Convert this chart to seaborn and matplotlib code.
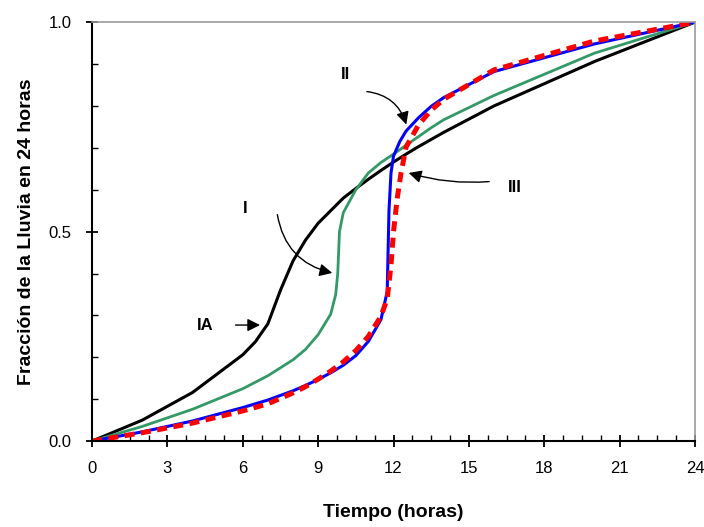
import pandas as pd
import matplotlib.pyplot as plt
import seaborn as sns
from matplotlib.ticker import MultipleLocator, FormatStrFormatter

# SCS 24-hour rainfall distributions
t_ia = [0, 2, 4, 6, 6.5, 7.0, 7.5, 8.0, 8.5, 9.0, 9.5, 10, 10.5, 11, 11.5, 12, 12.5, 13, 13.5, 14, 16, 20, 24]
f_ia = [0, 0.050, 0.116, 0.206, 0.237, 0.280, 0.360, 0.430, 0.480, 0.520, 0.550, 0.580, 0.603, 0.625, 0.646,
        0.666, 0.685, 0.703, 0.720, 0.737, 0.800, 0.906, 1.0]

t_i = [0, 2, 4, 6, 7, 8, 8.5, 9, 9.5, 9.7, 9.78, 9.85, 10, 10.5, 11, 11.5, 12, 12.5, 13, 13.5, 14, 16, 20, 24]
f_i = [0, 0.035, 0.076, 0.125, 0.156, 0.194, 0.219, 0.254, 0.303, 0.350, 0.400, 0.500, 0.545, 0.600, 0.640,
       0.665, 0.685, 0.706, 0.727, 0.748, 0.767, 0.825, 0.926, 1.0]

t_ii = [0, 2, 4, 6, 7, 8, 8.5, 9, 9.5, 9.75, 10, 10.5, 11, 11.5, 11.75, 11.82, 11.9, 12.0, 12.25, 12.5, 13,
        13.5, 14, 16, 20, 24]
f_ii = [0, 0.022, 0.048, 0.080, 0.098, 0.120, 0.133, 0.147, 0.163, 0.172, 0.181, 0.204, 0.238, 0.290, 0.357,
        0.550, 0.640, 0.680, 0.715, 0.740, 0.772, 0.799, 0.820, 0.882, 0.948, 1.0]

t_iii = [0, 2, 4, 6, 7, 8, 8.5, 9, 9.5, 9.75, 10, 10.5, 11, 11.5, 11.75, 11.9, 12.0, 12.15, 12.3, 12.5, 13,
         13.5, 14, 16, 20, 24]
f_iii = [0, 0.020, 0.043, 0.072, 0.089, 0.115, 0.130, 0.148, 0.167, 0.178, 0.189, 0.216, 0.250, 0.298, 0.340,
         0.420, 0.500, 0.580, 0.640, 0.702, 0.755, 0.790, 0.816, 0.886, 0.955, 1.0]

sns.set_style("ticks")
plt.rcParams['font.family'] = ['Liberation Sans', 'DejaVu Sans']
for key in ['text.color', 'axes.labelcolor', 'xtick.color', 'ytick.color']:
    plt.rcParams[key] = 'black'

fig = plt.figure(figsize=(7.04, 5.27), dpi=100)
ax = fig.add_axes([0.1307, 0.163, 0.8565, 0.795])

sns.lineplot(x=t_ia, y=f_ia, color='black', linewidth=2.2, ax=ax, sort=False)
sns.lineplot(x=t_i, y=f_i, color='#339966', linewidth=2.0, ax=ax, sort=False)
sns.lineplot(x=t_ii, y=f_ii, color='#0000ff', linewidth=2.2, ax=ax, sort=False)
sns.lineplot(x=t_iii, y=f_iii, color='#ff0000', linewidth=3.6, linestyle=(0, (2, 1.3)), ax=ax, sort=False)

ax.set_xlim(0, 24)
ax.set_ylim(0, 1)
ax.xaxis.set_major_locator(MultipleLocator(3))
ax.xaxis.set_minor_locator(MultipleLocator(0.75))
ax.yaxis.set_major_locator(MultipleLocator(0.5))
ax.yaxis.set_minor_locator(MultipleLocator(0.1))
ax.yaxis.set_major_formatter(FormatStrFormatter('%.1f'))
ax.tick_params(which='major', direction='inout', length=9, width=1.3, labelsize=12, pad=10, colors='black')
ax.tick_params(which='minor', direction='in', length=4, width=1.0, colors='black')

for side in ['left', 'bottom']:
    ax.spines[side].set_color('black')
    ax.spines[side].set_linewidth(1.5)
for side in ['top', 'right']:
    ax.spines[side].set_visible(True)
    ax.spines[side].set_color('#999999')
    ax.spines[side].set_linewidth(1.2)

ax.set_xlabel('Tiempo (horas)', fontsize=14, fontweight='bold', labelpad=20)
ax.set_ylabel('Fracción de la Lluvia en 24 horas', fontsize=14, fontweight='bold', labelpad=10)

# curve labels with arrows
arrow = dict(arrowstyle='-|>', color='black', lw=1.0, mutation_scale=19)
ax.annotate('', xy=(9.67, 0.40), xytext=(7.36, 0.547),
            arrowprops=dict(arrow, connectionstyle='arc3,rad=0.35'))
ax.text(6.09, 0.556, 'I', fontsize=12, fontweight='bold', ha='center', va='center')

ax.annotate('', xy=(6.8, 0.277), xytext=(5.6, 0.277), arrowprops=arrow)
ax.text(4.5, 0.277, 'IA', fontsize=12, fontweight='bold', ha='center', va='center')

ax.annotate('', xy=(12.54, 0.749), xytext=(10.83, 0.835),
            arrowprops=dict(arrow, connectionstyle='arc3,rad=-0.35'))
ax.text(10.07, 0.874, 'II', fontsize=12, fontweight='bold', ha='center', va='center')

ax.annotate('', xy=(12.5, 0.642), xytext=(15.92, 0.62),
            arrowprops=dict(arrow, connectionstyle='arc3,rad=-0.1'))
ax.text(16.84, 0.606, 'III', fontsize=12, fontweight='bold', ha='center', va='center')

plt.savefig('out.png', dpi=100)
